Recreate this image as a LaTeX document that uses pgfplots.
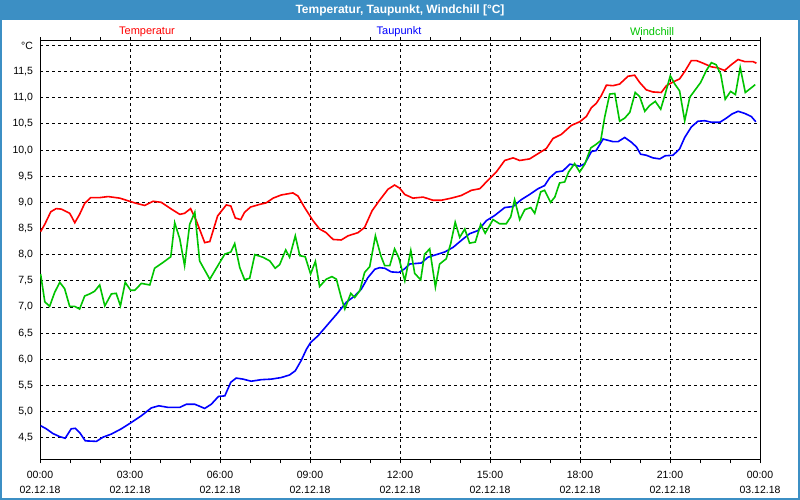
\documentclass[border=0pt]{standalone}
\usepackage{fontspec}
\setmainfont{Liberation Sans}
\usepackage{pgfplots}
\pgfplotsset{compat=1.18}
\definecolor{barblue}{HTML}{3C8FC4}
\definecolor{wgreen}{HTML}{00C400}
\definecolor{tred}{HTML}{FF0000}
\definecolor{tblue}{HTML}{0000FF}
\pgfplotstableread{
h v
0.02 8.44
0.16 8.58
0.36 8.82
0.54 8.88
0.71 8.87
0.99 8.79
1.04 8.74
1.16 8.61
1.32 8.77
1.49 8.98
1.69 9.09
1.99 9.09
2.27 9.11
2.66 9.08
2.93 9.03
3.21 8.98
3.49 8.94
3.77 9.02
4.04 9.00
4.38 8.87
4.66 8.77
4.82 8.79
5.02 8.88
5.21 8.65
5.49 8.23
5.66 8.25
5.92 8.74
6.21 8.95
6.36 8.93
6.51 8.70
6.69 8.67
6.82 8.81
7.02 8.91
7.32 8.96
7.54 8.99
7.77 9.08
8.04 9.14
8.43 9.18
8.60 9.12
8.82 8.90
9.10 8.65
9.32 8.49
9.54 8.42
9.77 8.29
10.04 8.28
10.27 8.36
10.60 8.42
10.82 8.52
11.07 8.84
11.32 9.04
11.60 9.25
11.82 9.33
11.99 9.27
12.16 9.15
12.43 9.08
12.77 9.10
13.10 9.04
13.38 9.04
13.71 9.08
14.04 9.13
14.38 9.23
14.66 9.26
14.93 9.42
15.21 9.58
15.49 9.80
15.77 9.85
15.99 9.80
16.32 9.83
16.60 9.93
16.88 10.03
17.10 10.22
17.38 10.30
17.71 10.47
17.99 10.54
18.21 10.64
18.38 10.81
18.54 10.89
18.71 11.04
18.88 11.24
19.10 11.23
19.32 11.26
19.60 11.41
19.82 11.43
19.99 11.29
20.21 11.15
20.43 11.11
20.71 11.10
20.88 11.23
21.10 11.30
21.32 11.36
21.49 11.50
21.71 11.71
21.88 11.71
22.10 11.66
22.38 11.59
22.60 11.57
22.82 11.52
23.04 11.63
23.27 11.73
23.49 11.69
23.77 11.69
23.88 11.66
}\temptable
\pgfplotstableread{
h v
0.02 4.73
0.21 4.67
0.43 4.58
0.66 4.52
0.84 4.49
1.04 4.67
1.18 4.68
1.32 4.60
1.51 4.44
1.88 4.43
2.10 4.51
2.38 4.57
2.71 4.67
3.04 4.79
3.38 4.92
3.71 5.07
3.96 5.11
4.27 5.08
4.66 5.08
4.88 5.14
5.16 5.14
5.49 5.06
5.71 5.14
5.95 5.29
6.16 5.30
6.36 5.56
6.54 5.64
6.77 5.62
7.04 5.58
7.38 5.61
7.71 5.62
8.04 5.65
8.32 5.70
8.51 5.78
8.71 5.98
8.88 6.19
9.02 6.32
9.27 6.45
9.60 6.67
9.93 6.89
10.21 7.09
10.49 7.21
10.71 7.34
10.93 7.56
11.16 7.72
11.32 7.75
11.49 7.74
11.71 7.67
11.96 7.66
12.16 7.73
12.32 7.82
12.71 7.84
12.93 7.95
13.21 8.00
13.49 8.05
13.77 8.14
14.04 8.27
14.32 8.40
14.60 8.46
14.88 8.65
15.16 8.75
15.49 8.90
15.77 8.92
16.04 9.05
16.32 9.15
16.60 9.26
16.82 9.32
16.99 9.47
17.21 9.58
17.43 9.60
17.66 9.73
17.99 9.69
18.16 9.74
18.38 9.97
18.54 9.99
18.77 10.21
19.10 10.16
19.27 10.16
19.49 10.24
19.71 10.15
19.88 10.06
20.02 9.92
20.21 9.90
20.43 9.85
20.66 9.83
20.84 9.89
21.10 9.90
21.32 10.02
21.49 10.24
21.71 10.44
21.93 10.55
22.16 10.56
22.38 10.53
22.66 10.53
22.88 10.61
23.07 10.69
23.27 10.74
23.49 10.70
23.71 10.64
23.86 10.54
}\dewtable
\pgfplotstableread{
h v
0.02 7.63
0.16 7.10
0.32 7.01
0.49 7.28
0.66 7.47
0.82 7.35
0.99 7.01
1.16 7.01
1.32 6.96
1.49 7.21
1.66 7.25
1.82 7.30
1.99 7.42
2.16 7.02
2.38 7.25
2.54 7.26
2.68 7.02
2.84 7.47
3.02 7.32
3.16 7.32
3.38 7.45
3.66 7.42
3.82 7.74
4.10 7.85
4.36 7.96
4.49 8.61
4.66 8.30
4.82 7.79
4.99 8.58
5.16 8.81
5.32 7.88
5.66 7.53
5.96 7.82
6.16 8.01
6.36 8.05
6.49 8.21
6.66 7.75
6.82 7.52
6.99 7.55
7.16 8.00
7.43 7.95
7.66 7.88
7.84 7.74
7.99 7.81
8.19 8.09
8.32 7.95
8.51 8.36
8.66 7.98
8.84 7.96
9.02 7.63
9.18 7.87
9.32 7.39
9.54 7.53
9.73 7.58
9.88 7.53
10.04 7.18
10.16 6.96
10.36 7.26
10.49 7.18
10.66 7.31
10.82 7.66
10.99 7.77
11.18 8.36
11.36 7.98
11.49 7.79
11.66 7.79
11.82 8.11
11.96 7.94
12.16 7.50
12.36 8.08
12.49 7.64
12.69 7.52
12.82 8.01
12.99 8.11
13.18 7.38
13.32 7.82
13.54 7.92
13.69 8.21
13.84 8.62
13.99 8.33
14.16 8.49
14.32 8.22
14.51 8.24
14.69 8.58
14.84 8.41
15.10 8.67
15.32 8.59
15.54 8.59
15.69 8.72
15.82 9.05
15.99 8.67
16.16 8.86
16.36 8.90
16.49 8.79
16.69 9.20
16.82 9.23
17.02 9.00
17.16 9.10
17.32 9.37
17.49 9.39
17.62 9.58
17.82 9.74
17.99 9.58
18.16 9.73
18.36 10.04
18.54 10.11
18.69 10.18
18.82 10.62
18.99 11.07
19.16 11.08
19.32 10.55
19.49 10.61
19.66 10.72
19.84 11.10
19.99 11.02
20.16 10.74
20.32 10.85
20.51 10.93
20.69 10.78
20.84 11.07
21.01 11.42
21.16 11.26
21.32 11.13
21.49 10.56
21.66 11.01
21.84 11.15
22.02 11.29
22.21 11.52
22.38 11.67
22.54 11.63
22.69 11.45
22.84 10.97
23.02 11.12
23.18 11.06
23.34 11.58
23.51 11.10
23.69 11.18
23.84 11.25
}\windtable
\begin{document}
\begin{tikzpicture}[x=1pt,y=1pt]
\useasboundingbox (0,0) rectangle (800,500);
\fill[white] (0,0) rectangle (800,500);
\fill[barblue] (0,480) rectangle (800,500);
\draw[barblue, line width=2pt] (1,1) rectangle (799,499);
\node[white, font=\bfseries\fontsize{12}{14}\selectfont] at (400,490) {Temperatur, Taupunkt, Windchill [°C]};
\node[tred, font=\fontsize{11}{13}\selectfont] at (147,468.5) {Temperatur};
\node[tblue, font=\fontsize{11}{13}\selectfont] at (399,468.5) {Taupunkt};
\node[wgreen, font=\fontsize{11}{13}\selectfont] at (652,468.5) {Windchill};
\begin{axis}[
  at={(40pt,40pt)}, anchor=south west,
  scale only axis, width=720pt, height=419.3pt,
  xmin=0, xmax=24, ymin=4.074, ymax=12.09,
  axis line style={black, line width=1pt},
  xtick={0,3,...,24},
  minor xtick={1,2,4,5,7,8,10,11,13,14,16,17,19,20,22,23},
  xticklabels={{00:00\\02.12.18},{03:00\\02.12.18},{06:00\\02.12.18},{09:00\\02.12.18},{12:00\\02.12.18},{15:00\\02.12.18},{18:00\\02.12.18},{21:00\\02.12.18},{00:00\\03.12.18}},
  xticklabel style={align=center, font=\fontsize{10.5}{15}\selectfont, yshift=-4pt},
  ytick={4.5,5,5.5,6,6.5,7,7.5,8,8.5,9,9.5,10,10.5,11,11.5,12},
  yticklabels={{4,5},{5,0},{5,5},{6,0},{6,5},{7,0},{7,5},{8,0},{8,5},{9,0},{9,5},{10,0},{10,5},{11,0},{11,5},{°C}},
  yticklabel style={font=\fontsize{10.5}{12}\selectfont},
  tick align=outside,
  xtick style={black, line width=0.8pt},
  major tick length=3.5pt, minor tick length=3.5pt,
  ytick style={draw=none},
  xmajorgrids, ymajorgrids,
  major grid style={black, line width=0.8pt, dash pattern=on 3pt off 3pt},
  clip=true,
]
\addplot[tred, line width=1.6pt] table[x=h, y=v] {\temptable};
\addplot[tblue, line width=1.6pt] table[x=h, y=v] {\dewtable};
\addplot[wgreen, line width=1.6pt] table[x=h, y=v] {\windtable};
\end{axis}
\end{tikzpicture}
\end{document}
